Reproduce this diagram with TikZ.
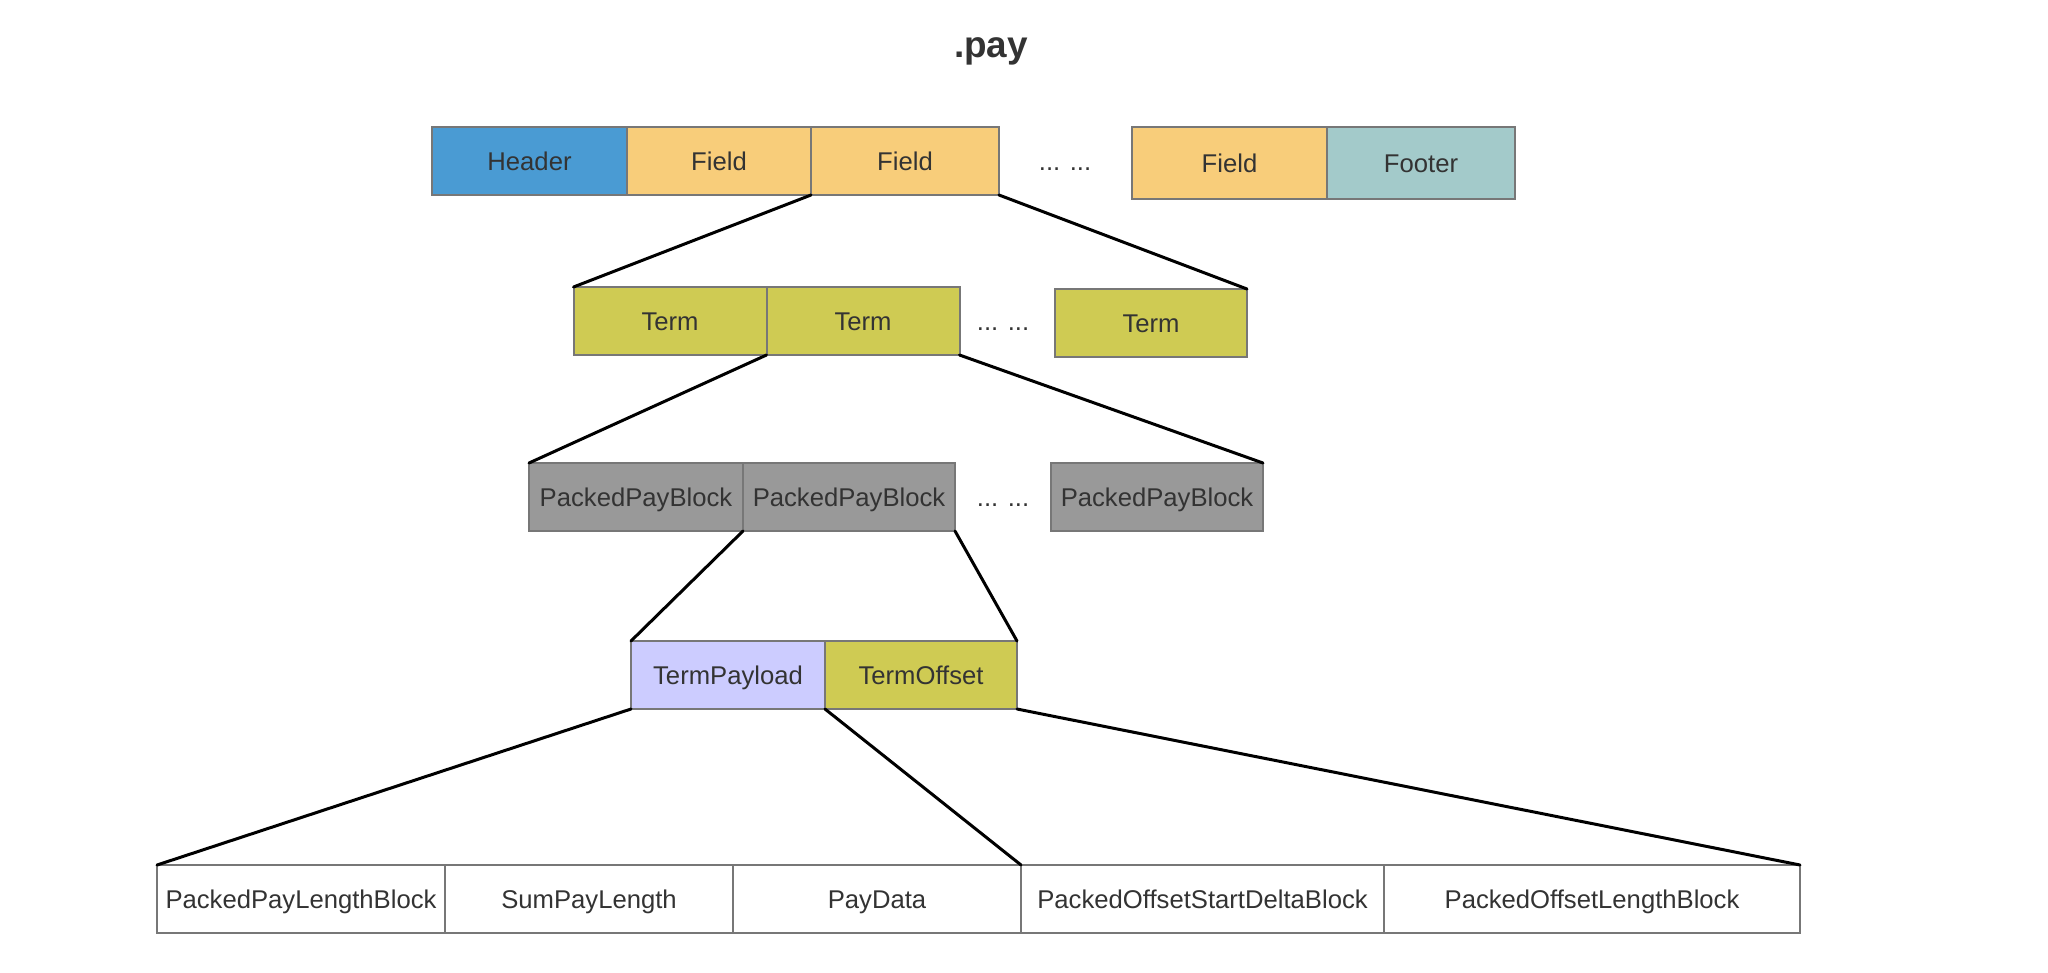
\documentclass[tikz,border=0pt]{standalone}
\usepackage{fontspec}
\setmainfont{Liberation Sans}
\usetikzlibrary{positioning}

\definecolor{hdrblue}{HTML}{4A9BD3}
\definecolor{fieldyellow}{HTML}{F8CD7A}
\definecolor{footerteal}{HTML}{A3CACA}
\definecolor{termolive}{HTML}{CFCB53}
\definecolor{packgray}{HTML}{999999}
\definecolor{payviolet}{HTML}{CCCCFF}
\definecolor{bordergray}{HTML}{777777}
\definecolor{txtgray}{HTML}{333333}

\begin{document}
\begin{tikzpicture}[x=0.2mm, y=-0.2mm, font=\fontsize{14.6}{17}\selectfont, text=txtgray,
  block/.style={rectangle, draw=bordergray, line width=0.4mm, minimum height=13.6mm, inner sep=0pt, outer sep=0pt, text height=2.3ex, text depth=0.3ex},
  dotsnode/.style={inner sep=0pt, text height=2.3ex, text depth=0.3ex},
  link/.style={line width=0.6mm, line cap=round}]

  \useasboundingbox (0,0) rectangle (2048,972);

  \node[font=\fontsize{21}{25}\selectfont\bfseries, anchor=base] (title) at (991,57) {.pay};

  % file level
  \node[block, fill=hdrblue, minimum width=39mm] (header) at (529.5,161) {Header};
  \node[block, fill=fieldyellow, minimum width=36.8mm, right=0mm of header] (field1) {Field};
  \node[block, fill=fieldyellow, minimum width=37.6mm, right=0mm of field1] (field2) {Field};
  \node[dotsnode] (fdots) at (1065,161) {... ...};
  \node[block, fill=fieldyellow, minimum width=39mm, minimum height=14.4mm] (field3) at (1229.5,163) {Field};
  \node[block, fill=footerteal, minimum width=37.6mm, minimum height=14.4mm, right=0mm of field3] (footer) {Footer};

  % terms
  \node[block, fill=termolive, minimum width=38.6mm] (term1) at (670,321) {Term};
  \node[block, fill=termolive, minimum width=38.6mm, right=0mm of term1] (term2) {Term};
  \node[dotsnode] (tdots) at (1003,321) {... ...};
  \node[block, fill=termolive, minimum width=38.4mm] (term3) at (1151,323) {Term};

  % packed blocks
  \node[block, fill=packgray, minimum width=42.8mm] (ppb1) at (636,497) {PackedPayBlock};
  \node[block, fill=packgray, minimum width=42.4mm, right=0mm of ppb1] (ppb2) {PackedPayBlock};
  \node[dotsnode] (pdots) at (1003,497) {... ...};
  \node[block, fill=packgray, minimum width=42.4mm] (ppb3) at (1157,497) {PackedPayBlock};

  % payload / offset
  \node[block, fill=payviolet, minimum width=38.8mm] (tpay) at (728,675) {TermPayload};
  \node[block, fill=termolive, minimum width=38.4mm, right=0mm of tpay] (toff) {TermOffset};

  % bottom row
  \node[block, fill=white, minimum width=57.6mm] (plb) at (301,899) {PackedPayLengthBlock};
  \node[block, fill=white, minimum width=57.6mm, right=0mm of plb] (sumlen) {SumPayLength};
  \node[block, fill=white, minimum width=57.6mm, right=0mm of sumlen] (paydata) {PayData};
  \node[block, fill=white, minimum width=72.6mm, right=0mm of paydata] (osdb) {PackedOffsetStartDeltaBlock};
  \node[block, fill=white, minimum width=83.2mm, right=0mm of osdb] (olb) {PackedOffsetLengthBlock};

  \draw[link] (field2.south west) -- (term1.north west);
  \draw[link] (field2.south east) -- (term3.north east);
  \draw[link] (term2.south west) -- (ppb1.north west);
  \draw[link] (term2.south east) -- (ppb3.north east);
  \draw[link] (ppb2.south west) -- (tpay.north west);
  \draw[link] (ppb2.south east) -- (toff.north east);
  \draw[link] (tpay.south west) -- (plb.north west);
  \draw[link] (tpay.south east) -- (paydata.north east);
  \draw[link] (toff.south east) -- (olb.north east);
\end{tikzpicture}
\end{document}
